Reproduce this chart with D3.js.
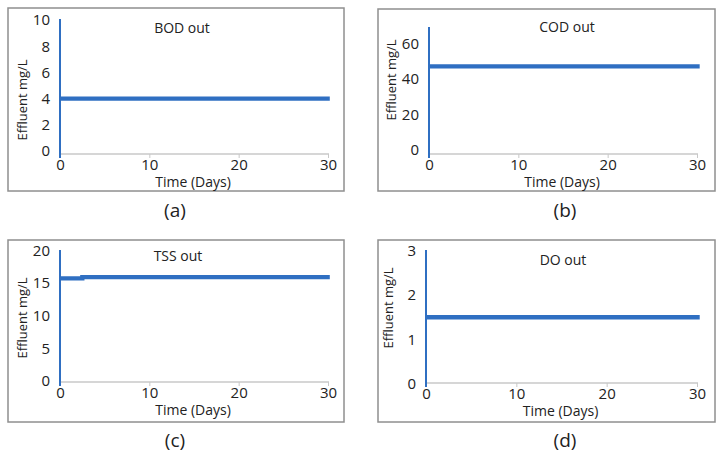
<!DOCTYPE html>
<html><head><meta charset="utf-8">
<script src="https://cdn.jsdelivr.net/npm/d3@7"></script>
<style>body{margin:0;background:#fff}svg{display:block}text{font-family:"Open Sans","Liberation Sans",sans-serif;fill:#222}</style>
</head><body>
<svg id="c" width="724" height="454"></svg>
<script>
const xTicks = [0, 10, 20, 30];
const panelTitles = ["BOD out", "COD out", "TSS out", "DO out"];
const panelLetters = ["(a)", "(b)", "(c)", "(d)"];
const yTopVal = [10, 60, 20, 3];
const yTickVals = [[0, 2, 4, 6, 8, 10], [0, 20, 40, 60], [0, 5, 10, 15, 20], [0, 1, 2, 3]];
const bodDays = [0, 30.2];
const bodVals = [4, 4];
const codDays = [0, 30.3];
const codVals = [47, 47];
const tssDays = [0, 2.5, 2.5, 30.2];
const tssVals = [15.7, 15.7, 15.9, 15.9];
const doDays = [0, 30.3];
const doVals = [1.5, 1.5];
const series = [[bodDays, bodVals], [codDays, codVals], [tssDays, tssVals], [doDays, doVals]];

// pixel layout per panel
const layout = [
  {bx: 8, by: 8, bw: 336, bh: 183, ax: 60, ax30: 328, y0: 151, yTop: 20, axisY: 154, axisTop: 19, lx: 175, ly: 217, ylc: 100, tx: 182, ty: 33},
  {bx: 378, by: 9, bw: 337, bh: 182, ax: 429, ax30: 697, y0: 150, yTop: 43.3, axisY: 154, axisTop: 27, lx: 565, ly: 217, ylc: 80, tx: 567, ty: 32},
  {bx: 8, by: 240, bw: 336, bh: 182, ax: 60, ax30: 328, y0: 381, yTop: 250.3, axisY: 382, axisTop: 250, lx: 175, ly: 447, ylc: 318, tx: 178, ty: 261},
  {bx: 378, by: 240, bw: 337, bh: 182, ax: 426, ax30: 697, y0: 383.5, yTop: 251, axisY: 383, axisTop: 250, lx: 565, ly: 447, ylc: 308, tx: 563, ty: 265}
];
const blue = "#2f6fc2";
const svg = d3.select("#c");

layout.forEach((L, i) => {
  const g = svg.append("g");
  g.append("rect").attr("x", L.bx).attr("y", L.by).attr("width", L.bw).attr("height", L.bh)
    .attr("fill", "#fff").attr("stroke", "#8f8f8f").attr("stroke-width", 1.5);
  const x = d3.scaleLinear().domain([0, 30]).range([L.ax, L.ax30]);
  const y = d3.scaleLinear().domain([0, yTopVal[i]]).range([L.y0, L.yTop]);
  // x axis
  const xa = g.append("g").attr("transform", `translate(0,${L.axisY})`)
    .call(d3.axisBottom(x).tickValues(xTicks).tickSize(4).tickPadding(1).tickFormat(d3.format("d")));
  xa.select(".domain").attr("stroke", "#c8c8c8").attr("stroke-width", 1.5).attr("d", `M${L.ax},0H${L.ax30 + 1}`);
  xa.selectAll(".tick line").attr("stroke", "#c8c8c8");
  xa.selectAll(".tick text").attr("font-size", 15).attr("fill", "#222");
  // y axis
  const ya = g.append("g").attr("transform", `translate(${L.ax},0)`)
    .call(d3.axisLeft(y).tickValues(yTickVals[i]).tickSize(0).tickPadding(10).tickFormat(d3.format("d")));
  ya.select(".domain").attr("stroke", blue).attr("stroke-width", 2).attr("d", `M0,${L.axisY + 4}V${L.axisTop}`);
  ya.selectAll(".tick text").attr("font-size", 15).attr("fill", "#222");
  // series line
  const [days, vals] = series[i];
  const pts = days.map((d, k) => [d, vals[k]]);
  g.append("path").datum(pts)
    .attr("d", d3.line().x(d => x(d[0])).y(d => y(d[1])))
    .attr("fill", "none").attr("stroke", blue).attr("stroke-width", 4.3);
  // labels
  g.append("text").attr("x", L.tx).attr("y", L.ty).attr("text-anchor", "middle")
    .attr("font-size", 14).text(panelTitles[i]);
  g.append("text").attr("x", (L.ax + L.ax30) / 2 - 1).attr("y", L.axisY + 33).attr("text-anchor", "middle")
    .attr("font-size", 14).text("Time (Days)");
  g.append("text").attr("transform", `translate(${L.ax - 33},${L.ylc}) rotate(-90)`)
    .attr("text-anchor", "middle").attr("font-size", 13).text("Effluent mg/L");
  g.append("text").attr("x", L.lx).attr("y", L.ly).attr("text-anchor", "middle")
    .attr("font-size", 19).text(panelLetters[i]);
});
</script>
</body></html>
